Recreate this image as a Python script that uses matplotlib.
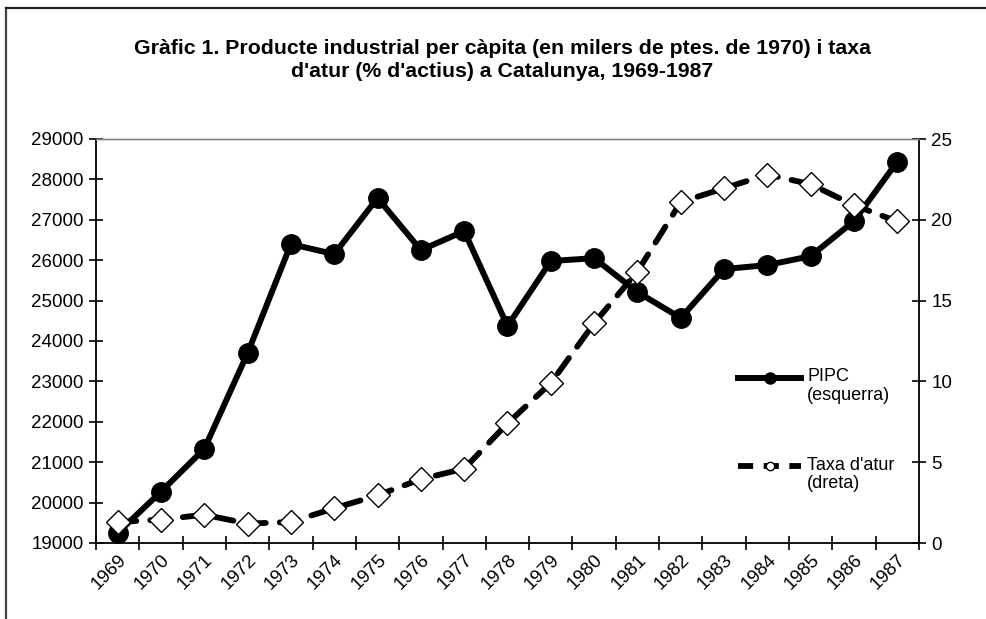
import matplotlib.pyplot as plt
import numpy as np
from matplotlib.lines import Line2D
from matplotlib.transforms import ScaledTranslation

plt.rcParams['font.family'] = ['Liberation Sans', 'DejaVu Sans']

# ---- data ----
years = [str(y) for y in range(1969, 1988)]
pipc = [19250, 20270, 21330, 23700, 26400, 26150, 27540, 26250, 26720, 24370,
        25980, 26050, 25210, 24570, 25780, 25880, 26100, 26970, 28440]
atur = [1.3, 1.45, 1.75, 1.2, 1.3, 2.15, 2.95, 3.95, 4.6, 7.4,
        9.9, 13.6, 16.8, 21.1, 21.95, 22.8, 22.2, 20.9, 19.9]

x = np.arange(len(years))

fig = plt.figure(figsize=(9.87, 6.19), dpi=100)
ax = fig.add_axes([96/987, 1-543/619, (919-96)/987, (543-139)/619])
ax2 = ax.twinx()

ax.plot(x, pipc, color='black', lw=4.3, marker='o', ms=14,
        solid_capstyle='round', solid_joinstyle='round', zorder=3)
ax2.plot(x, atur, color='black', lw=4.2, dashes=(3.2, 2.4), marker='D', ms=12.5,
         mfc='white', mec='black', mew=1.0, dash_capstyle='round', zorder=3)

ax.set_xlim(-0.5, len(years) - 0.5)
ax.set_ylim(19000, 29000)
ax2.set_ylim(0, 25)
ax.set_yticks(range(19000, 29001, 1000))
ax2.set_yticks(range(0, 26, 5))

# category axis: ticks between categories, labels at centres
ax.set_xticks(np.arange(-0.5, len(years), 1.0))
ax.set_xticklabels([])
ax.set_xticks(x, minor=True)
ax.set_xticklabels(years, minor=True, rotation=45, ha='right',
                   rotation_mode='anchor', fontsize=13.5)
off = ScaledTranslation(7/100, 0, fig.dpi_scale_trans)
for lab in ax.get_xticklabels(minor=True):
    lab.set_transform(lab.get_transform() + off)
ax.tick_params(axis='x', which='minor', length=0, pad=6)
ax.tick_params(axis='x', which='major', direction='inout', length=10, width=1.2)
ax.tick_params(axis='y', direction='inout', length=10, width=1.2, labelsize=13.5, pad=4)
ax2.tick_params(axis='y', direction='inout', length=10, width=1.2, labelsize=13.5, pad=4)

for a in (ax, ax2):
    a.spines['top'].set_color('#888888')
    a.spines['top'].set_linewidth(1.0)
ax.spines['right'].set_visible(False)
ax2.spines['left'].set_visible(False)
ax2.spines['bottom'].set_visible(False)
for s in ('left', 'bottom'):
    ax.spines[s].set_linewidth(1.3)
ax2.spines['right'].set_linewidth(1.3)

fig.text(502/987, 1-60/619, "Gràfic 1. Producte industrial per càpita (en milers de ptes. de 1970) i taxa\n"
         "d'atur (% d'actius) a Catalunya, 1969-1987",
         ha='center', va='center', fontsize=15.3, fontweight='bold', linespacing=1.25)

# legend drawn by hand
tr = ax.transAxes
ax.add_line(Line2D([0.78, 0.8185, 0.857], [0.408, 0.408, 0.408], transform=tr,
                   color='black', lw=4.3, marker='o', markevery=[1], ms=8, clip_on=False))
ax.add_line(Line2D([0.78, 0.8185, 0.857], [0.19, 0.19, 0.19], transform=tr, color='black',
                   lw=4.2, dashes=(2.6, 1.8), marker='o', markevery=[1], ms=6,
                   mfc='white', mec='black', mew=1, clip_on=False))
ax.text(0.864, 0.432, "PIPC\n(esquerra)", transform=tr, ha='left', va='top',
        fontsize=13, linespacing=1.15)
ax.text(0.864, 0.214, "Taxa d'atur\n(dreta)", transform=tr, ha='left', va='top',
        fontsize=13, linespacing=1.15)

# outer frame (left and top only)
fig.add_artist(Line2D([6/987, 6/987], [0, 1-8/619], transform=fig.transFigure,
                      color='#444444', lw=1.6))
fig.add_artist(Line2D([6/987, 1], [1-8/619, 1-8/619], transform=fig.transFigure,
                      color='#222222', lw=1.6))

fig.savefig('out.png', dpi=100)
